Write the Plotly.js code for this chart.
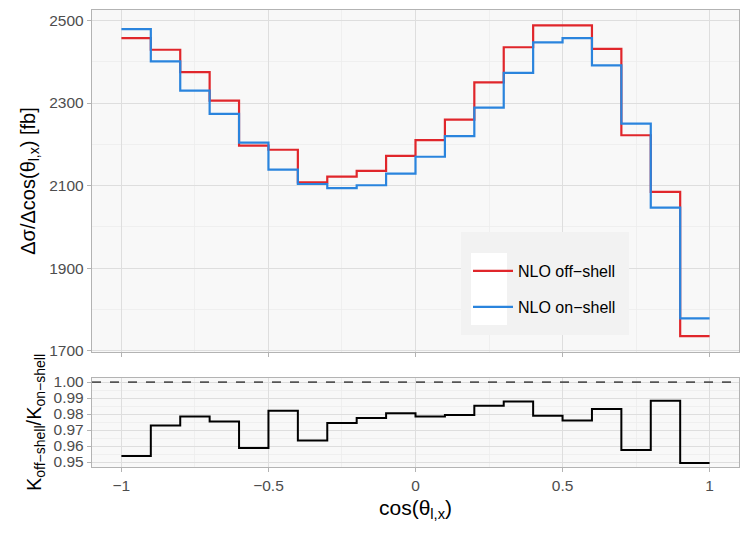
<!DOCTYPE html>
<html><head><meta charset="utf-8">
<script src="https://cdn.plot.ly/plotly-3.0.1.min.js"></script>
<style>body{margin:0;padding:0;background:#fff}#chart{width:750px;height:540px}</style>
</head><body><div id="chart"></div>
<script>
const binEdges = [-1,-0.9,-0.8,-0.7,-0.6,-0.5,-0.4,-0.3,-0.2,-0.1,0,0.1,0.2,0.3,0.4,0.5,0.6,0.7,0.8,0.9,1];
const offShell = [2457,2429,2375,2306,2197,2187,2108,2122,2136,2172,2210,2260,2350,2435,2488,2488,2431,2222,2085,1736];
const onShell  = [2479,2401,2330,2274,2204,2139,2104,2094,2101,2129,2170,2220,2289,2373,2447,2457,2391,2250,2047,1779];
const kRatio   = [0.9538,0.9729,0.9785,0.9754,0.9588,0.9821,0.9635,0.9744,0.9775,0.9805,0.9785,0.9794,0.9852,0.9879,0.9789,0.9760,0.9831,0.9575,0.9883,0.9494];
const xTicks = [-1,-0.5,0,0.5,1];
const xTickText = ["\u22121","\u22120.5","0","0.5","1"];

const ext = a => a.concat([a[a.length-1]]);
const red = '#E0262B', blue = '#2A84DD';
const fontFam = '"Liberation Sans", Arial, sans-serif';

const traces = [
  {x: binEdges, y: ext(offShell), type:'scatter', mode:'lines', line:{shape:'hv', color:red, width:2.2}, name:'NLO off\u2212shell', xaxis:'x', yaxis:'y', legend:'legend'},
  {x: binEdges, y: ext(onShell), type:'scatter', mode:'lines', line:{shape:'hv', color:blue, width:2.2}, name:'NLO on\u2212shell', xaxis:'x', yaxis:'y', legend:'legend2'},
  {x: binEdges, y: ext(kRatio), type:'scatter', mode:'lines', line:{shape:'hv', color:'#000', width:2}, showlegend:false, xaxis:'x2', yaxis:'y2'}
];

const W = 647, H = 457, L = 92, B = 467;
const px = v => (v - L) / W, py = v => (B - v) / H;

const axBase = {
  showline:true, mirror:true, linecolor:'#b3b3b3', linewidth:1.2,
  ticks:'outside', ticklen:4, tickcolor:'#b3b3b3', tickwidth:1,
  gridcolor:'#dedede', gridwidth:1, zeroline:false,
  tickfont:{size:15.5, color:'#4d4d4d', family:fontFam}
};
const minorGrid = d => ({dtick:d, showgrid:true, gridcolor:'#ececec', gridwidth:0.8, ticks:''});

const layout = {
  width:750, height:540,
  margin:{l:L, r:11, t:10, b:73},
  paper_bgcolor:'#fff', plot_bgcolor:'#f8f8f8',
  font:{family:fontFam, color:'#000'},
  xaxis: Object.assign({}, axBase, {domain:[0,1], range:[-1.1,1.1], tickvals:xTicks, ticktext:xTickText, showticklabels:false, anchor:'y', minor:Object.assign(minorGrid(null),{tickvals:[-0.75,-0.25,0.25,0.75]})}),
  yaxis: Object.assign({}, axBase, {domain:[py(352),1], range:[1697.4,2525.2], tick0:1700, dtick:200, anchor:'x', minor:minorGrid(100),
    title:{text:'\u0394\u03c3/\u0394cos(\u03b8<sub>l,x</sub>) [fb]', font:{size:20, color:'#000'}, standoff:8}}),
  xaxis2: Object.assign({}, axBase, {domain:[0,1], range:[-1.1,1.1], tickvals:xTicks, ticktext:xTickText, anchor:'y2', minor:Object.assign(minorGrid(null),{tickvals:[-0.75,-0.25,0.25,0.75]}),
    title:{text:'cos(\u03b8<sub>l,x</sub>)', font:{size:21, color:'#000'}, standoff:7}}),
  yaxis2: Object.assign({}, axBase, {domain:[0,py(378)], range:[0.94687,1.00253], tickvals:[0.95,0.96,0.97,0.98,0.99,1.00], tickformat:'.2f', anchor:'x2', minor:Object.assign(minorGrid(null),{tickvals:[0.955,0.965,0.975,0.985,0.995]}),
    title:{text:'K<sub>off\u2212shell</sub>/K<sub>on\u2212shell</sub>', font:{size:20, color:'#000'}, standoff:6}}),
  shapes:[
    {type:'line', xref:'x2', yref:'y2', x0:-1.1, x1:1.1, y0:1, y1:1, line:{color:'#555', width:1.8, dash:'dash'}},
    {type:'rect', xref:'paper', yref:'paper', x0:px(461), x1:px(629), y0:py(335), y1:py(232), fillcolor:'#f2f2f2', line:{width:0}, layer:'above'},
    {type:'rect', xref:'paper', yref:'paper', x0:px(471), x1:px(507), y0:py(325), y1:py(253), fillcolor:'#ffffff', line:{width:0}, layer:'above'}
  ],
  legend:{x:px(468), y:py(271), xanchor:'left', yanchor:'middle', bgcolor:'rgba(0,0,0,0)', font:{size:16, color:'#000'}, itemwidth:40},
  legend2:{x:px(468), y:py(307), xanchor:'left', yanchor:'middle', bgcolor:'rgba(0,0,0,0)', font:{size:16, color:'#000'}, itemwidth:40}
};

Plotly.newPlot('chart', traces, layout, {displayModeBar:false, staticPlot:true});
</script></body></html>
